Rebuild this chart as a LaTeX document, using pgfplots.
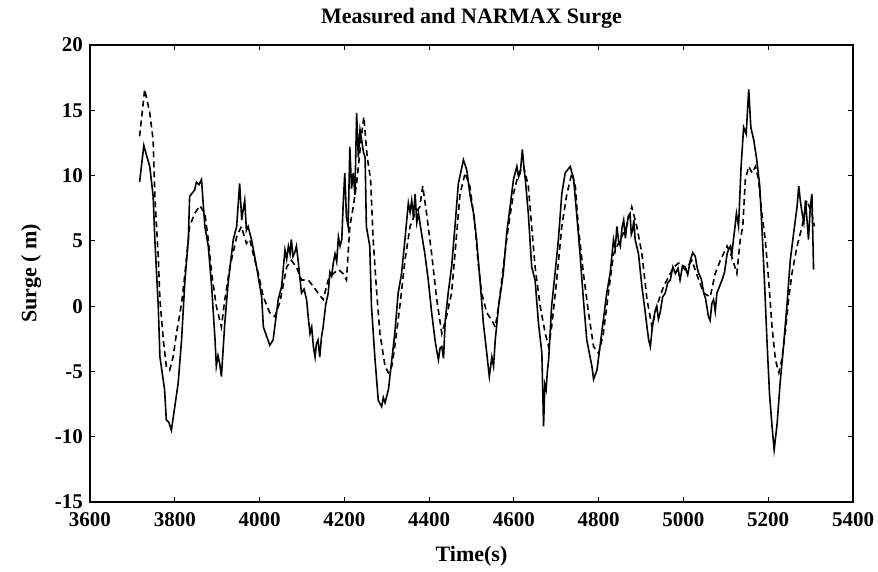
\documentclass[border=0pt]{standalone}
\usepackage{fontspec}
\setmainfont{Liberation Serif}
\usepackage{pgfplots}
\pgfplotsset{compat=1.18}
\usepackage{pgfplotstable}

% measured surge (solid)
\pgfplotstableread{
t v
3717 9.5
3727 12.3
3733 11.6
3741 10.7
3749 8.4
3753 5.1
3761 0
3765 -3.9
3776 -6.4
3780 -8.7
3786 -8.9
3792 -9.5
3800 -7.7
3808 -5.9
3816 -2.6
3824 2.0
3832 5.1
3835 8.4
3847 8.9
3851 9.5
3857 9.3
3863 9.7
3871 6.1
3879 4.6
3887 1.5
3895 -2.6
3898 -4.6
3902 -3.8
3906 -4.4
3910 -5.4
3918 -1.3
3926 1.8
3938 5.1
3946 6.1
3953 9.4
3958 6.6
3960 7.1
3965 8.1
3969 5.8
3973 6.1
3981 5.1
3993 3.0
4005 0.7
4009 -1.6
4020 -2.6
4024 -3.0
4032 -2.6
4044 0.5
4052 1.5
4056 2.9
4060 4.3
4064 3.6
4068 4.6
4072 4.0
4075 5.1
4079 3.8
4083 4.1
4087 4.6
4091 3.5
4095 2.2
4099 1.0
4105 1.3
4111 0.5
4115 -0.9
4119 -2.1
4123 -1.6
4127 -3.1
4131 -3.9
4134 -2.9
4138 -2.6
4142 -3.9
4146 -2.4
4150 -1.6
4156 0.1
4162 1.0
4166 2.6
4170 2.3
4174 3.3
4178 4.0
4182 3.4
4186 5.3
4190 4.6
4194 5.1
4197 7.6
4201 10.2
4205 6.8
4209 6.1
4213 12.2
4217 9.0
4221 10.2
4225 8.5
4229 14.8
4233 11.4
4237 13.5
4241 12.7
4245 11.8
4249 11.4
4252 6.1
4260 4.6
4264 0
4272 -3.9
4280 -7.2
4288 -7.7
4292 -7.0
4296 -7.4
4304 -6.4
4312 -4.1
4319 -2.1
4327 1.0
4335 2.5
4343 5.1
4351 7.9
4355 7.2
4359 8.1
4363 6.8
4367 8.6
4371 6.4
4375 7.1
4382 5.6
4390 4.0
4398 2.0
4406 -0.5
4414 -2.6
4418 -3.4
4422 -4.1
4426 -3.2
4430 -3.1
4434 -4.0
4438 -1.1
4445 1.0
4453 3.0
4461 6.1
4469 9.4
4481 11.2
4489 10.4
4497 8.4
4505 7.1
4512 5.1
4520 2.0
4528 -1.3
4536 -3.6
4542 -5.4
4548 -3.9
4552 -4.6
4556 -2.6
4564 0
4575 2.5
4583 5.6
4591 7.6
4599 9.7
4607 10.7
4611 9.9
4615 10.2
4620 12.0
4624 10.5
4627 9.7
4634 7.1
4642 3.0
4650 2.0
4658 -1.3
4666 -3.6
4670 -9.2
4673 -6.0
4676 -6.4
4679 -5.0
4682 -4.1
4689 0
4697 2.5
4705 5.1
4713 8.6
4721 10.2
4733 10.7
4741 9.7
4748 7.1
4756 4.0
4764 0.5
4772 -2.6
4784 -4.6
4788 -5.6
4796 -4.9
4807 -2.1
4819 1.0
4827 2.5
4835 5.1
4839 4.4
4843 6.1
4847 5.0
4851 4.6
4855 6.0
4859 6.6
4863 5.2
4866 6.1
4870 6.9
4874 7.1
4877 5.5
4880 5.8
4883 6.6
4886 5.1
4894 4.0
4902 1.5
4910 -0.5
4914 -1.6
4918 -2.6
4922 -3.1
4926 -1.8
4929 -1.1
4933 -0.4
4937 0
4941 -1.0
4945 -0.5
4951 0.7
4957 1.0
4963 1.8
4969 2.0
4975 3.0
4981 2.5
4987 2.9
4992 2.0
4998 3.1
5004 3.0
5010 2.4
5016 3.5
5022 4.1
5028 3.8
5032 3.0
5036 2.5
5042 2.1
5048 1.0
5052 0.6
5055 0
5059 -0.8
5063 -1.1
5067 0.2
5071 0.5
5075 -0.4
5079 1.0
5085 1.5
5091 2.0
5097 2.6
5103 4.0
5107 4.4
5111 4.6
5114 3.9
5118 5.1
5121 5.9
5125 7.1
5130 6.1
5136 10.7
5142 13.7
5148 13.2
5154 16.6
5159 13.7
5166 12.7
5173 11.2
5180 9.2
5185 6.1
5191 2.0
5197 -2.6
5203 -6.7
5209 -9.2
5214 -11.0
5221 -9.0
5228 -5.9
5236 -3.1
5244 0
5252 3.5
5260 5.6
5268 7.6
5272 9.2
5276 8.0
5280 7.1
5284 6.4
5288 8.1
5291 6.8
5295 5.1
5299 7.5
5303 8.6
5307 2.8
}\measured

% NARMAX model surge (dashed)
\pgfplotstableread{
t v
3717 13
3729 16.6
3741 14.8
3749 12.7
3753 8.4
3761 3.8
3765 0.5
3773 -2.6
3780 -4.6
3788 -4.9
3796 -3.9
3804 -2.1
3816 0.2
3824 2.5
3835 6.1
3847 7.1
3859 7.7
3871 7.1
3879 5.1
3887 2.5
3898 0
3910 -1.6
3918 0.5
3930 3.0
3946 5.3
3957 6.1
3969 4.8
3977 5.1
3985 4.0
3997 2.5
4009 0.7
4024 -0.5
4036 -0.8
4048 0.3
4064 3.0
4075 3.5
4087 3.0
4099 2.0
4115 2.0
4127 1.5
4138 1.0
4150 0.5
4162 2.0
4174 2.5
4186 2.8
4197 2.5
4205 2.0
4213 6.1
4221 7.6
4229 9.4
4241 13.2
4246 14.5
4254 11.4
4262 9.7
4268 5.1
4276 1.2
4284 -2.1
4296 -4.6
4304 -5.1
4312 -4.6
4319 -3.1
4331 0
4343 3.5
4355 6.1
4367 7.1
4378 7.6
4385 9.2
4394 7.1
4406 4.0
4418 0.5
4430 -2.1
4441 -0.8
4453 1.0
4461 4.0
4473 8.6
4485 10.2
4496 9.2
4508 6.3
4516 3.2
4524 1.0
4536 -0.5
4548 -1.1
4556 -1.6
4564 0
4575 3.0
4587 6.1
4599 8.6
4611 10.2
4623 10.7
4634 9.2
4642 6.1
4650 3.0
4662 0
4674 -2.1
4682 -3.1
4689 -1.6
4701 2.0
4713 6.1
4725 8.6
4737 10.2
4745 9.2
4752 6.1
4764 2.5
4776 -0.5
4788 -3.1
4800 -3.6
4811 -2.1
4823 1.0
4835 4.0
4851 5.1
4866 6.1
4878 7.6
4890 6.1
4902 4.0
4914 0.5
4926 -1.6
4937 0
4953 1.5
4969 2.5
4977 3.0
4989 3.3
5004 2.8
5020 3.5
5036 2.0
5048 1.0
5063 0.7
5075 2.5
5087 3.5
5103 4.6
5114 3.8
5126 2.5
5134 5.1
5140 6.1
5146 9.7
5154 10.7
5162 10.2
5170 10.7
5177 9.7
5185 7.1
5193 5.1
5201 2.0
5209 -1.6
5217 -4.1
5225 -5.1
5232 -4.1
5240 -2.1
5248 0.5
5256 2.5
5268 4.6
5280 6.1
5291 8.1
5303 7.1
5309 6.1
}\narmax

\begin{document}
\begin{tikzpicture}
  \begin{axis}[
    scale only axis,
    width=381.5pt, height=228.5pt,
    xmin=3600, xmax=5400, ymin=-15, ymax=20,
    xtick={3600,3800,...,5400},
    ytick={-15,-10,...,20},
    tick align=inside,
    major tick length=2.5pt,
    axis line style={line width=0.7pt},
    tick style={line width=0.6pt, black},
    /pgf/number format/assume math mode=true,
    /pgf/number format/set thousands separator={},
    tick label style={font=\fontsize{10.5}{12}\selectfont\bfseries},
    xticklabel style={yshift=-1.5pt},
    title={Measured and NARMAX Surge},
    title style={font=\fontsize{11}{13}\selectfont\bfseries, yshift=-1pt},
    xlabel={Time(s)},
    ylabel={Surge ( m)},
    label style={font=\fontsize{11}{13}\selectfont\bfseries},
    xlabel style={yshift=-3pt},
    ylabel style={yshift=0pt},
    clip=false ]
  \addplot[black, line width=0.8pt] table[x=t, y=v] {\measured};
  \addplot[black, line width=0.8pt, dash pattern=on 3pt off 2pt] table[x=t, y=v] {\narmax};
  \end{axis}
  \pgfresetboundingbox
  \path ([shift={(-45pt,-35pt)}]current axis.south west) rectangle ([shift={(12.5pt,22.5pt)}]current axis.north east);
\end{tikzpicture}
\end{document}
